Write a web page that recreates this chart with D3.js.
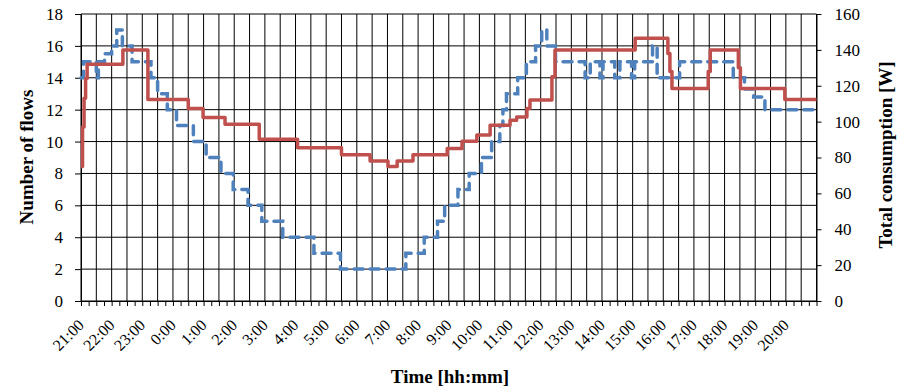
<!DOCTYPE html>
<html><head><meta charset="utf-8">
<script src="https://cdn.jsdelivr.net/npm/d3@7"></script>
<style>body{margin:0;background:#fff}svg{display:block}</style>
</head><body><svg id="c" width="904" height="388"></svg>
<script>
// ---- data ----
const hourLabels = ["21:00","22:00","23:00","0:00","1:00","2:00","3:00","4:00","5:00","6:00","7:00","8:00",
  "9:00","10:00","11:00","12:00","13:00","14:00","15:00","16:00","17:00","18:00","19:00","20:00"];
const leftTicks = [0,2,4,6,8,10,12,14,16,18];
const rightTicks = [0,20,40,60,80,100,120,140,160];

// Number of flows (left axis) – step changes
const flowTimes = ["21:00","21:05","21:30","21:34","21:46","22:00","22:10","22:21","22:40","23:17","23:30","23:49",
  "0:07","0:40","1:05","1:34","1:58","2:27","2:54","3:35","4:36","5:28","7:36","8:12","8:38","8:52","9:18","9:40",
  "10:04","10:24","10:40","10:46","10:53","11:15","11:32","11:50","12:02","12:12","12:29","13:27","13:37","13:56",
  "14:02","14:25","14:35","14:58","15:04","15:39","15:48","16:32","18:17","18:39","18:57","19:19"];
const flowValues = [14,15,14,15,15.5,16,17,16,15,14,13,12,
  11,10,9,8,7,6,5,4,3,2,3,4,5,6,7,8,
  9,10,11,12,13,14,15,16,17,16,15,14,15,14,
  15,14,15,14,15,16,14,15,14,13.3,12.8,12];

// Total consumption [W] (right axis) – step changes
const powerTimes = ["21:00","21:03","21:06","21:09","21:12","22:22","23:11","0:30","0:59","1:42","2:49","4:04",
  "5:30","6:26","7:01","7:19","7:50","8:57","9:26","9:55","10:21","11:00","11:13","11:33","11:39","12:22","12:28",
  "15:05","16:09","16:13","16:17","17:28","17:32","18:27","18:31","19:58"];
const powerValues = [75,97,113,124,132,140,112.4,107.3,102.3,98.5,90.2,85.5,
  81.5,78,75,78,81.5,85,89,92.5,98,100.8,102.6,107.3,112,125,140,
  146.5,138,128,118.5,128,140,130,118.5,112.4];

// ---- helpers ----
const toMin = s => { const [h,m] = s.split(":").map(Number); return ((h*60+m) - 21*60 + 1440) % 1440; };
const series = (ts, vs) => { const d = ts.map((t,i)=>({t:toMin(t), v:vs[i]})); d.push({t:1440, v:vs[vs.length-1]}); return d; };

const svg = d3.select("#c");
const FONT = "'Liberation Serif','Times New Roman',serif";
const x = d3.scaleLinear().domain([0,1440]).range([81,816.5]);
const yL = d3.scaleLinear().domain([0,18]).range([301,14]);
const yR = d3.scaleLinear().domain([0,160]).range([301,14]);

// gridlines
const grid = svg.append("g").attr("stroke","#000").attr("stroke-width",1);
grid.selectAll("line.h").data(leftTicks).join("line")
  .attr("x1",x(0)).attr("x2",x(1440)).attr("y1",d=>yL(d)).attr("y2",d=>yL(d));
grid.selectAll("line.v").data(d3.range(0,1441,30)).join("line")
  .attr("x1",d=>x(d)).attr("x2",d=>x(d)).attr("y1",yL(0)).attr("y2",yL(18));

// axes
const axL = svg.append("g").attr("transform",`translate(${x(0)},0)`)
  .call(d3.axisLeft(yL).tickValues(leftTicks).tickSize(6).tickSizeOuter(0).tickPadding(12));
const axR = svg.append("g").attr("transform",`translate(${x(1440)},0)`)
  .call(d3.axisRight(yR).tickValues(rightTicks).tickSize(5).tickSizeOuter(0).tickPadding(13));
const axB = svg.append("g").attr("transform",`translate(0,${yL(0)})`)
  .call(d3.axisBottom(x).tickValues(d3.range(0,1441,15)).tickSize(5).tickSizeOuter(0).tickFormat(""));
[axL,axR,axB].forEach(a=>{
  a.selectAll("path,line").attr("stroke","#000");
  a.selectAll("text").attr("font-family",FONT).attr("font-size",17).attr("fill","#000");
});

// x labels, rotated
svg.append("g").selectAll("text").data(hourLabels).join("text")
  .attr("transform",(d,i)=>`translate(${x(i*60)},322) rotate(-45)`)
  .attr("text-anchor","end").attr("dy","0.35em")
  .attr("font-family",FONT).attr("font-size",16).attr("fill","#000").text(d=>d);

// lines
const lineL = d3.line().x(d=>x(d.t)).y(d=>yL(d.v)).curve(d3.curveStepAfter);
const lineR = d3.line().x(d=>x(d.t)).y(d=>yR(d.v)).curve(d3.curveStepAfter);
svg.append("path").datum(series(flowTimes,flowValues)).attr("d",lineL)
  .attr("fill","none").attr("stroke","#4f81bd").attr("stroke-width",3.5)
  .attr("stroke-dasharray","9,7").attr("stroke-linecap","round");
svg.append("path").datum(series(powerTimes,powerValues)).attr("d",lineR)
  .attr("fill","none").attr("stroke","#c0504d").attr("stroke-width",3.5).attr("stroke-linejoin","round");

// titles
svg.append("text").attr("transform","translate(26.5,157) rotate(-90)").attr("text-anchor","middle").attr("dy","0.35em")
  .attr("font-family",FONT).attr("font-size",19).attr("font-weight","bold").text("Number of flows");
svg.append("text").attr("transform","translate(885,155) rotate(-90)").attr("text-anchor","middle").attr("dy","0.35em")
  .attr("font-family",FONT).attr("font-size",19).attr("font-weight","bold").text("Total consumption [W]");
svg.append("text").attr("x",450).attr("y",383).attr("text-anchor","middle")
  .attr("font-family",FONT).attr("font-size",19).attr("font-weight","bold").text("Time [hh:mm]");
</script></body></html>
